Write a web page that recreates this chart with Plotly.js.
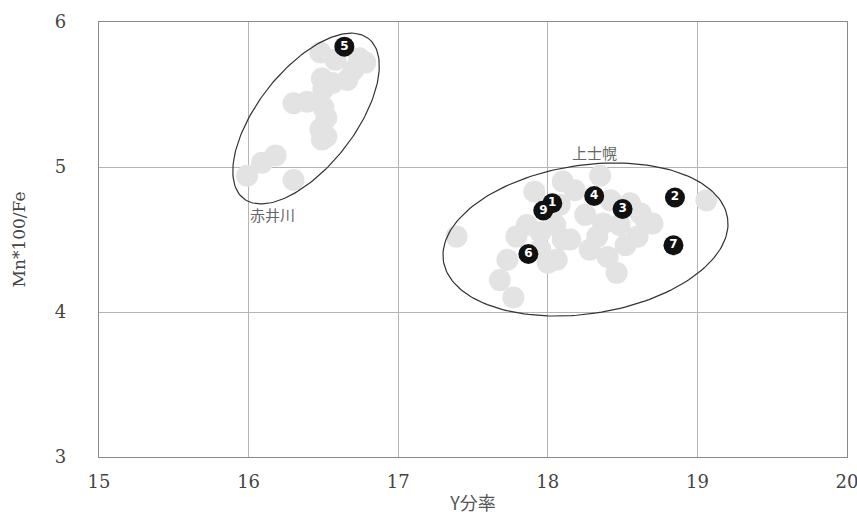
<!DOCTYPE html>
<html><head><meta charset="utf-8">
<script src="https://cdn.plot.ly/plotly-3.0.1.min.js"></script>
<style>body{margin:0;background:#fff}#c{width:857px;height:518px}</style>
</head><body><div id="c"></div>
<script>
// Gray background samples: 赤井川 group
const grayAkaiX = [16.48,16.58,16.74,16.78,16.70,16.49,16.56,16.66,16.50,16.30,16.39,16.50,16.52,16.48,16.52,16.49,15.99,16.09,16.18,16.30];
const grayAkaiY = [5.79,5.74,5.75,5.72,5.67,5.61,5.58,5.60,5.54,5.44,5.45,5.41,5.34,5.26,5.21,5.19,4.94,5.03,5.08,4.91];
// Gray background samples: 上士幌 group
const grayKamiX = [17.39,17.91,18.10,18.18,18.08,17.86,17.79,17.95,18.05,18.10,17.95,18.06,18.00,17.73,17.68,17.77,18.15,18.35,18.25,18.42,18.55,18.62,18.66,18.70,18.37,18.48,18.33,18.60,18.28,18.40,18.46,18.52,19.06];
const grayKamiY = [4.52,4.83,4.90,4.84,4.74,4.60,4.52,4.55,4.60,4.50,4.43,4.36,4.34,4.36,4.22,4.10,4.50,4.94,4.67,4.77,4.75,4.68,4.61,4.61,4.61,4.60,4.52,4.52,4.43,4.38,4.27,4.46,4.77];
// Numbered samples
const numLabels = ['1','2','3','4','5','6','7','9'];
const numX = [18.03,18.85,18.50,18.31,16.64,17.87,18.84,17.97];
const numY = [4.75,4.79,4.71,4.80,5.83,4.40,4.46,4.70];
// Group labels
const groupNames = ['赤井川','上士幌'];
const groupLabelX = [16.16,18.31];
const groupLabelY = [4.67,5.10];
// Axis ticks
const xTicks = [15,16,17,18,19,20];
const yTicks = [3,4,5,6];

const W=857,H=518,ML=99,MR=10,MT=22,MB=61;
const SX=(W-ML-MR)/5, SY=(H-MT-MB)/3;
function ellipse(cx,cy,a,b,deg){
  const th=deg*Math.PI/180, xs=[], ys=[];
  for(let i=0;i<=180;i++){
    const t=i/180*2*Math.PI;
    const px=a*Math.cos(th)*Math.cos(t)-b*Math.sin(th)*Math.sin(t);
    const py=a*Math.sin(th)*Math.cos(t)+b*Math.cos(th)*Math.sin(t);
    xs.push(cx+px/SX); ys.push(cy+py/SY);
  }
  return {xs,ys};
}
const e1=ellipse(16.384,5.334,101.5,48.5,52);
const e2=ellipse(18.252,4.50,143.7,74.3,8.6);

const SERIF='DejaVu Serif';
const traces=[
  {x:grayAkaiX,y:grayAkaiY,mode:'markers',type:'scatter',marker:{size:22,color:'#e3e3e3'},hoverinfo:'none'},
  {x:grayKamiX,y:grayKamiY,mode:'markers',type:'scatter',marker:{size:22,color:'#e3e3e3'},hoverinfo:'none'},
  {x:e1.xs,y:e1.ys,mode:'lines',type:'scatter',line:{color:'#333',width:1.2},hoverinfo:'none'},
  {x:e2.xs,y:e2.ys,mode:'lines',type:'scatter',line:{color:'#333',width:1.2},hoverinfo:'none'},
  {x:numX,y:numY,text:numLabels,mode:'markers+text',type:'scatter',textposition:'middle center',
   marker:{size:20,color:'#111'},textfont:{color:'#fff',size:12,family:'DejaVu Sans',weight:'bold'},hoverinfo:'none'}
];
const annotations=groupNames.map((n,i)=>({x:groupLabelX[i],y:groupLabelY[i],text:n,showarrow:false,
  font:{family:'Noto Sans CJK JP',size:15,color:'#666'}}));
const layout={
  width:W,height:H,margin:{l:ML,r:MR,t:MT,b:MB},showlegend:false,
  paper_bgcolor:'#fff',plot_bgcolor:'#fff',
  xaxis:{range:[15,20],tickvals:xTicks,showgrid:true,gridcolor:'#b4b4b4',gridwidth:1,zeroline:false,
    showline:true,mirror:true,linecolor:'#8a8a8a',linewidth:1.2,ticks:'',ticklabelstandoff:8,
    ticklabeloverflow:'allow',
    tickfont:{family:SERIF,size:18,color:'#444'},
    title:{text:'Y分率',font:{family:'Noto Sans CJK JP',size:18,color:'#555'},standoff:6}},
  yaxis:{range:[3,6],tickvals:yTicks,showgrid:true,gridcolor:'#b4b4b4',gridwidth:1,zeroline:false,
    showline:true,mirror:true,linecolor:'#8a8a8a',linewidth:1.2,ticks:'',ticklabelstandoff:28,
    tickfont:{family:SERIF,size:18,color:'#444'},
    title:{text:'Mn*100/Fe',font:{family:SERIF,size:17,color:'#444'},standoff:24}},
  annotations:annotations
};
Plotly.newPlot('c',traces,layout,{staticPlot:true,displayModeBar:false});
</script></body></html>
